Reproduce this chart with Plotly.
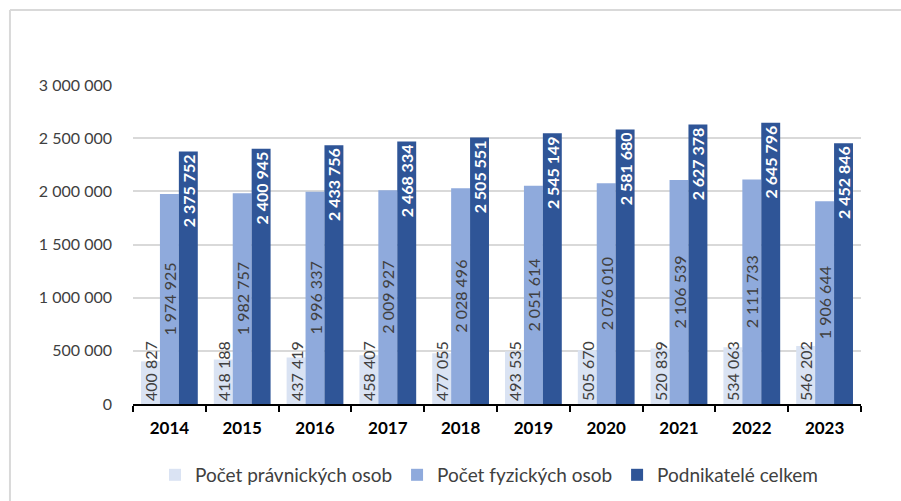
import plotly.graph_objects as go

years = ["2014", "2015", "2016", "2017", "2018", "2019", "2020", "2021", "2022", "2023"]
pravnicke = [400827, 418188, 437419, 458407, 477055, 493535, 505670, 520839, 534063, 546202]
fyzicke = [1974925, 1982757, 1996337, 2009927, 2028496, 2051614, 2076010, 2106539, 2111733, 1906644]
celkem = [2375752, 2400945, 2433756, 2468334, 2505551, 2545149, 2581680, 2627378, 2645796, 2452846]
names = ["Počet právnických osob", "Počet fyzických osob", "Podnikatelé celkem"]
colors = ["#dae3f3", "#8faadc", "#2f5597"]
ytick_vals = [0, 500000, 1000000, 1500000, 2000000, 2500000, 3000000]


def fmt(v):
    return f"{v:,}".replace(",", " ")

FONT = "Lato"

fig = go.Figure()
specs = [
    (pravnicke, "start", dict(color="#404040", size=16, family=FONT)),
    (fyzicke, "middle", dict(color="#404040", size=16, family=FONT)),
    (celkem, "end", dict(color="#ffffff", size=16, family=FONT, weight="bold")),
]
for (vals, anchor, tfont), name, col in zip(specs, names, colors):
    fig.add_trace(go.Bar(
        x=years, y=vals, name=name,
        marker=dict(color=col, line=dict(width=0)),
        text=[fmt(v) for v in vals],
        textposition="inside",
        insidetextanchor=anchor,
        textangle=-90,
        constraintext="none",
        cliponaxis=False,
        textfont=tfont,
        hoverinfo="x+y+name",
    ))

fig.update_layout(
    width=901, height=501,
    margin=dict(l=133, r=40, t=85, b=97, autoexpand=False),
    paper_bgcolor="white", plot_bgcolor="white",
    barmode="group", bargap=0.22, bargroupgap=0,
    font=dict(family=FONT, color="#404040", size=16),
    showlegend=True,
    legend=dict(orientation="h", x=0.489, xanchor="center", xref="paper",
                y=0.052, yanchor="middle", yref="container",
                font=dict(size=19, color="#404040", family=FONT),
                itemwidth=30, tracegroupgap=0),
    xaxis=dict(type="category", showline=True, linecolor="black", linewidth=2,
               ticks="outside", tickson="boundaries", ticklen=6, tickwidth=2, tickcolor="black",
               tickfont=dict(size=17, color="black", family=FONT, weight="bold"),
               ticklabelstandoff=8, automargin=False,
               showgrid=False, fixedrange=True),
    yaxis=dict(range=[0, 3000000], tickvals=ytick_vals, ticktext=[fmt(v) for v in ytick_vals],
               showgrid=True, gridcolor="#d9d9d9", gridwidth=1.5, zeroline=False,
               showline=False, ticks="", ticklabelstandoff=20, automargin=False,
               tickfont=dict(size=16, color="#404040", family=FONT), fixedrange=True),
    shapes=[
        dict(type="line", xref="paper", yref="paper", x0=-0.169, x1=1.06, y0=1.235, y1=1.235,
             line=dict(color="#d9d9d9", width=2)),
        dict(type="line", xref="paper", yref="paper", x0=-0.169, x1=-0.169, y0=1.235, y1=-0.31,
             line=dict(color="#d9d9d9", width=2)),
    ],
)

fig.write_html("out.html", config={"displayModeBar": False},
               post_script="document.body.style.margin='0px';document.body.style.overflow='hidden';")
